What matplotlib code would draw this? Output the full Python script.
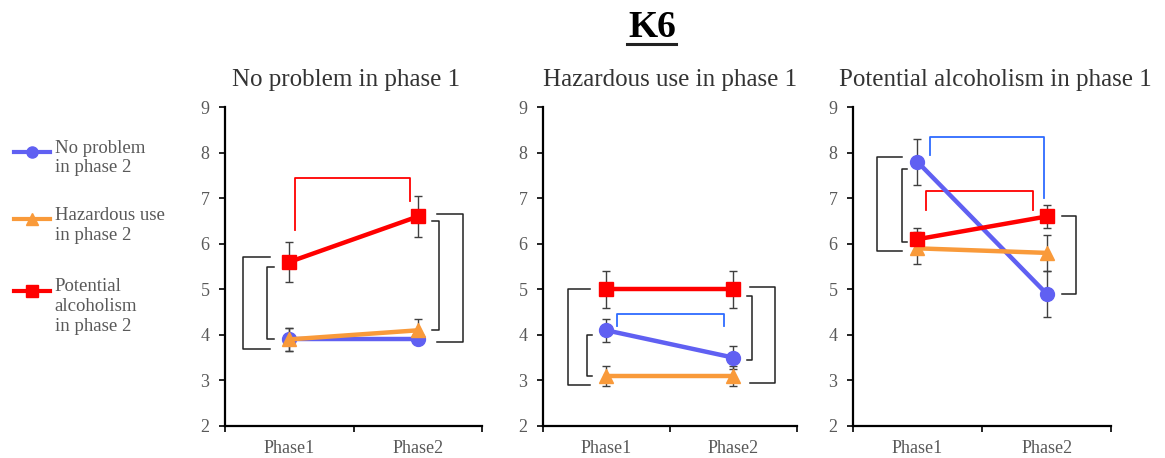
import matplotlib
matplotlib.use("Agg")
from matplotlib import pyplot as plt
from matplotlib.lines import Line2D

# data
phases = ["Phase1", "Phase2"]
panel_titles = ["No problem in phase 1", "Hazardous use in phase 1",
                "Potential alcoholism in phase 1"]
series_names = ["No problem\nin phase 2", "Hazardous use\nin phase 2",
                "Potential\nalcoholism\nin phase 2"]

# mean values per panel: [no problem, hazardous, potential alcoholism]
means = [
    [[3.9, 3.9], [3.9, 4.1], [5.6, 6.6]],
    [[4.1, 3.5], [3.1, 3.1], [5.0, 5.0]],
    [[7.8, 4.9], [5.9, 5.8], [6.1, 6.6]],
]
errors = [
    [[0.25, 0.0], [0.25, 0.25], [0.45, 0.45]],
    [[0.25, 0.25], [0.22, 0.22], [0.4, 0.4]],
    [[0.5, 0.5], [0.35, 0.4], [0.25, 0.25]],
]

# significance brackets (x_vertical, x_stub, y_low, y_high)
side_brackets = [
    [(0.14, 0.35, 3.7, 5.7), (0.33, 0.38, 3.9, 5.5),
     (1.66, 1.61, 4.1, 6.5), (1.85, 1.65, 3.85, 6.65)],
    [(0.20, 0.37, 2.9, 5.0), (0.35, 0.39, 3.1, 4.0),
     (1.65, 1.61, 3.45, 4.85), (1.83, 1.63, 2.95, 5.05)],
    [(0.185, 0.38, 5.85, 7.9), (0.38, 0.42, 6.05, 7.65),
     (1.73, 1.62, 4.9, 6.6)],
]
# top brackets (x_left, x_right, y_top, y_left_end, y_right_end, series index)
top_brackets = [
    [(0.545, 1.44, 7.45, 6.3, 6.95, 2)],
    [(0.58, 1.43, 4.45, 4.2, 4.2, 0)],
    [(0.60, 1.48, 8.35, 7.95, 7.0, 0), (0.57, 1.39, 7.15, 6.75, 6.75, 2)],
]

colors = ["#6060F2", "#F99A3A", "#FF0000"]
bracket_colors = ["#2E6BFF", "#F99A3A", "#FF0000"]
markers = ["o", "^", "s"]
serif = ["Liberation Serif", "DejaVu Serif"]
gray = "#595959"

fig = plt.figure(figsize=(11.65, 4.58), dpi=100)
axes_lefts = [0.193, 0.466, 0.732]
axes_widths = [0.221, 0.218, 0.222]
title_x = [0.47, 0.5, 0.55]

for p in range(3):
    ax = fig.add_axes([axes_lefts[p], 0.07, axes_widths[p], 0.696])
    xs = [0.5, 1.5]
    for s in range(3):
        ax.errorbar(xs, means[p][s], yerr=errors[p][s], fmt="none",
                    ecolor="#404040", elinewidth=1, capsize=3, capthick=1,
                    zorder=2)
        ax.plot(xs, means[p][s], color=colors[s], marker=markers[s],
                markersize=10, linewidth=3.2, zorder=3)
    for xv, xe, y0, y1 in side_brackets[p]:
        ax.plot([xe, xv, xv, xe], [y1, y1, y0, y0], color="#222222",
                linewidth=1.1, solid_joinstyle="round", zorder=1)
    for xl, xr, yt, yl, yr, s in top_brackets[p]:
        ax.plot([xl, xl, xr, xr], [yl, yt, yt, yr], color=bracket_colors[s],
                linewidth=1.3, solid_joinstyle="round", zorder=1)

    ax.set_xlim(0, 2)
    ax.set_ylim(2, 9)
    ax.set_xticks([0, 1, 2])
    ax.set_xticklabels([])
    ax.set_xticks(xs, minor=True)
    ax.set_xticklabels(phases, minor=True, fontfamily=serif, fontsize=13,
                       color=gray)
    ax.tick_params(axis="x", which="minor", length=0, pad=10)
    ax.tick_params(axis="x", which="major", length=4, width=1.2,
                   direction="out")
    ax.set_yticks(range(2, 10))
    ax.tick_params(axis="y", length=4, width=1.2, labelsize=13,
                   labelcolor=gray, pad=7)
    for lab in ax.get_yticklabels():
        lab.set_fontfamily(serif)
    for side in ["top", "right"]:
        ax.spines[side].set_visible(False)
    for side in ["left", "bottom"]:
        ax.spines[side].set_linewidth(1.6)
    ax.text(title_x[p], 1.05, panel_titles[p], transform=ax.transAxes,
            ha="center", va="bottom", fontfamily=serif, fontsize=18,
            color="#333333")

# legend drawn by hand so the marker sits next to the first text line
legend_y = [0.668, 0.521, 0.365]
for s in range(3):
    fig.add_artist(Line2D([0.012, 0.0275, 0.043], [legend_y[s]] * 3,
                          color=colors[s], linewidth=3, marker=markers[s],
                          markersize=8, markevery=[1],
                          transform=fig.transFigure))
    fig.text(0.047, legend_y[s] + 0.027, series_names[s], ha="left", va="top",
             fontfamily=serif, fontsize=13.5, color=gray, linespacing=1.2)

fig.text(0.56, 0.94, "K6", ha="center", va="center", fontfamily=serif,
         fontsize=27, fontweight="bold")
fig.add_artist(Line2D([0.538, 0.58], [0.904, 0.904], color="#222222",
                      linewidth=2.2, transform=fig.transFigure))

fig.savefig("out.png", dpi=100)
